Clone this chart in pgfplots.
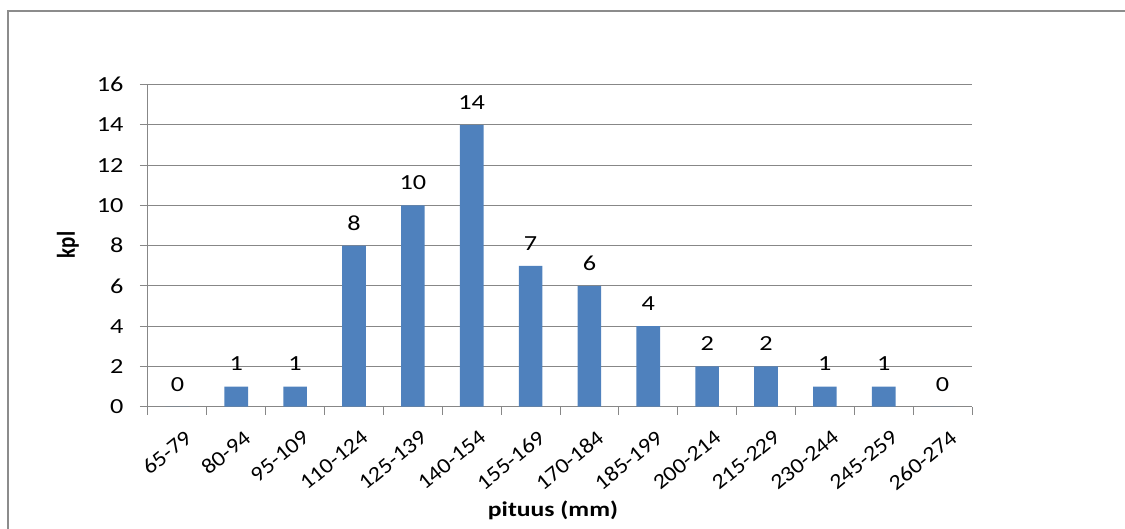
\documentclass[border=0pt]{standalone}
\usepackage{fontspec}
\setmainfont{Carlito}
\newfontfamily\tickfont{Carlito}[FakeStretch=1.22]
\newfontfamily\xtickfont{Carlito}[FakeStretch=1.115]
\usepackage{pgfplots}
\pgfplotsset{compat=1.18}
\definecolor{barblue}{HTML}{4F81BD}
\definecolor{gridgray}{HTML}{878787}
\definecolor{framegray}{HTML}{8C8C8C}
\newcommand{\XL}[1]{{\xtickfont\fontsize{21.5}{24}\selectfont #1}}
\begin{document}
\begin{tikzpicture}
\useasboundingbox (0pt,0pt) rectangle (1125pt,529pt);
\draw[framegray, line width=2.2pt] (8.3pt,-2pt) -- (8.3pt,518pt) -- (1127pt,518pt);
\begin{axis}[
  at={(148pt,122.3pt)}, anchor=south west,
  scale only axis, width=824pt, height=322pt,
  ymin=0, ymax=16, ytick={0,2,...,16},
  xmin=-0.5, xmax=13.5,
  xtick={0,...,13},
  xticklabels={\XL{65-79},\XL{80-94},\XL{95-109},\XL{110-124},\XL{125-139},\XL{140-154},\XL{155-169},\XL{170-184},\XL{185-199},\XL{200-214},\XL{215-229},\XL{230-244},\XL{245-259},\XL{260-274}},
  minor xtick={-0.5,0.5,...,13.5},
  axis x line*=bottom, axis y line*=left,
  axis line style={gridgray, line width=1pt, -},
  ymajorgrids, grid style={gridgray, line width=1pt},
  tick align=outside,
  major tick length=8pt, minor tick length=8pt,
  major x tick style={draw=none},
  minor x tick style={draw=gridgray, line width=1pt},
  y tick style={draw=gridgray, line width=1pt},
  /pgf/number format/assume math mode=true,
  yticklabel style={font=\tickfont\fontsize{21.5}{24}\selectfont, text=black, xshift=-13pt},
  xticklabel style={font=\xtickfont\fontsize{21.5}{24}\selectfont, text=black, inner sep=0pt, rotate=39.3, anchor=north east, xshift=-4pt, yshift=-15pt},
  xlabel={\bfseries pituus (mm)},
  ylabel={\bfseries kpl},
  xlabel style={at={(axis description cs:0.4915,-0.3208)}, anchor=center, font=\fontsize{21}{24}\selectfont, xscale=1.22},
  ylabel style={at={(axis description cs:-0.0971,0.502)}, anchor=center, font=\fontsize{21}{24}\selectfont, rotate=-90, xscale=1.22, rotate=90},
  nodes near coords,
  nodes near coords style={font=\fontsize{21.5}{24}\selectfont, text=black, anchor=center, yshift=22.5pt, xscale=1.22},
  clip=false,
]
\addplot[ybar, bar width=23.6pt, fill=barblue, draw=none] coordinates {
(0,0) (1,1) (2,1) (3,8) (4,10) (5,14) (6,7) (7,6) (8,4) (9,2) (10,2) (11,1) (12,1) (13,0)
};
\end{axis}
\end{tikzpicture}
\end{document}
